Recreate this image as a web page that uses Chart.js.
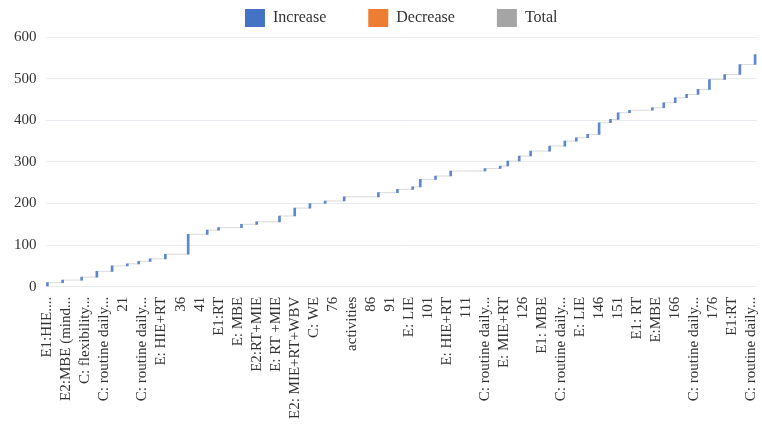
<!DOCTYPE html>
<html>
<head>
<meta charset="utf-8">
<script src="https://cdn.jsdelivr.net/npm/chart.js@4/dist/chart.umd.min.js"></script>
<style>
    html, body { margin: 0; padding: 0; background: #fff; }
    #wrap { width: 762px; height: 433px; }
</style>
</head>
<body>
<div id="wrap"><canvas id="waterfall"></canvas></div>
<script>
// one value per category, most of them are zero steps
const increments = [
    10, 0, 0, 0, 6, 0, 0, 0, 0, 7,
    0, 0, 0, 14, 0, 0, 0, 13, 0, 0,
    0, 5, 0, 0, 6, 0, 0, 6, 0, 0,
    0, 11, 0, 0, 0, 0, 0, 48, 0, 0,
    0, 0, 10, 0, 0, 6, 0, 0, 0, 0,
    0, 8, 0, 0, 0, 6, 0, 0, 0, 0,
    0, 14, 0, 0, 0, 19, 0, 0, 0, 11,
    0, 0, 0, 6, 0, 0, 0, 0, 10, 0,
    0, 0, 0, 0, 0, 0, 0, 10, 0, 0,
    0, 0, 8, 0, 0, 0, 6, 0, 18, 0,
    0, 0, 8, 0, 0, 0, 12, 0, 0, 0,
    0, 0, 0, 0, 0, 6, 0, 0, 0, 6,
    0, 12, 0, 0, 12, 0, 0, 12, 0, 0,
    0, 0, 12, 0, 0, 0, 12, 0, 0, 8,
    0, 0, 8, 0, 0, 28, 0, 0, 8, 0,
    16, 0, 0, 6, 0, 0, 0, 0, 0, 6,
    0, 0, 12, 0, 0, 12, 0, 0, 8, 0,
    0, 12, 0, 0, 24, 0, 0, 0, 12, 0,
    0, 0, 24, 0, 0, 0, 24
];

// only every 5th category label is shown on the axis
const tickLabels = [
    "E1:HIE....", "E2:MBE (mind...", "C: flexibility...", "C: routine daily...", "21",
    "C: routine daily...", "E: HIE+RT", "36", "41", "E1:RT",
    "E: MBE", "E2:RT+MIE", "E: RT +MIE", "E2: MIE+RT+WBV", "C: WE",
    "76", "activities", "86", "91", "E: LIE",
    "101", "E: HIE+RT", "111", "C: routine daily...", "E: MIE+RT",
    "126", "E1: MBE", "C: routine daily...", "E: LIE", "146",
    "151", "E1: RT", "E:MBE", "166", "C: routine daily...",
    "176", "E1:RT", "C: routine daily..."
];

const yTicks = [0, 100, 200, 300, 400, 500, 600];
const legendColors = ["#4472C4", "#ED7D31", "#A5A5A5"];

const categories = increments.map((_, i) => String(i + 1));

// running totals -> floating bars + connector line
let running = 0;
const increaseBars = [];
const levels = [];
increments.forEach(v => {
    if (v > 0) {
        increaseBars.push([running, running + v]);
    } else {
        increaseBars.push(null);
    }
    running += v;
    levels.push(running);
});

const serif = "'Liberation Serif', 'Times New Roman', serif";

new Chart(document.getElementById("waterfall"), {
    type: "bar",
    data: {
        labels: categories,
        datasets: [
            {
                label: "Increase",
                data: increaseBars,
                backgroundColor: "#5f86d0",
                borderWidth: 0,
                barThickness: 2,
                grouped: false,
                order: 1
            },
            {
                label: "Decrease",
                data: categories.map(() => null),
                backgroundColor: legendColors[1],
                grouped: false,
                order: 1
            },
            {
                label: "Total",
                data: categories.map(() => null),
                backgroundColor: legendColors[2],
                grouped: false,
                order: 1
            },
            {
                type: "line",
                label: "connector",
                data: levels,
                borderColor: "#d9d9d9",
                borderWidth: 1,
                pointRadius: 0,
                stepped: true,
                fill: false,
                order: 2
            }
        ]
    },
    options: {
        responsive: true,
        maintainAspectRatio: false,
        animation: false,
        layout: { padding: { left: 5, right: 5, top: -1, bottom: 12 } },
        plugins: {
            tooltip: { enabled: false },
            legend: {
                position: "top",
                fullSize: false,
                labels: {
                    boxWidth: 20,
                    boxHeight: 18,
                    padding: 10,
                    color: "#333",
                    font: { family: serif, size: 16 },
                    // wide gaps between items like the original legend
                    generateLabels: chart => Chart.defaults.plugins.legend.labels.generateLabels(chart)
                        .filter(item => item.text !== "connector")
                        .map((item, i, arr) => {
                            item.fillStyle = legendColors[i];
                            if (i < arr.length - 1) item.text += "\u2003\u2003";
                            return item;
                        })
                }
            }
        },
        scales: {
            x: {
                grid: { display: false },
                border: { display: false },
                afterFit: axis => { axis.paddingRight = 0; axis.paddingLeft = 0; },
                ticks: {
                    autoSkip: false,
                    minRotation: 90,
                    maxRotation: 90,
                    padding: 2,
                    color: "#333",
                    font: { family: serif, size: 15 },
                    callback: (value, index) => index % 5 === 0 ? tickLabels[index / 5] : ""
                }
            },
            y: {
                min: yTicks[0],
                max: yTicks[yTicks.length - 1],
                afterBuildTicks: axis => { axis.ticks = yTicks.map(v => ({ value: v })); },
                grid: { color: "#e8ebf1", drawTicks: false },
                border: { display: false },
                ticks: {
                    padding: 9,
                    color: "#333",
                    font: { family: serif, size: 15 }
                }
            }
        }
    }
});
</script>
</body>
</html>
